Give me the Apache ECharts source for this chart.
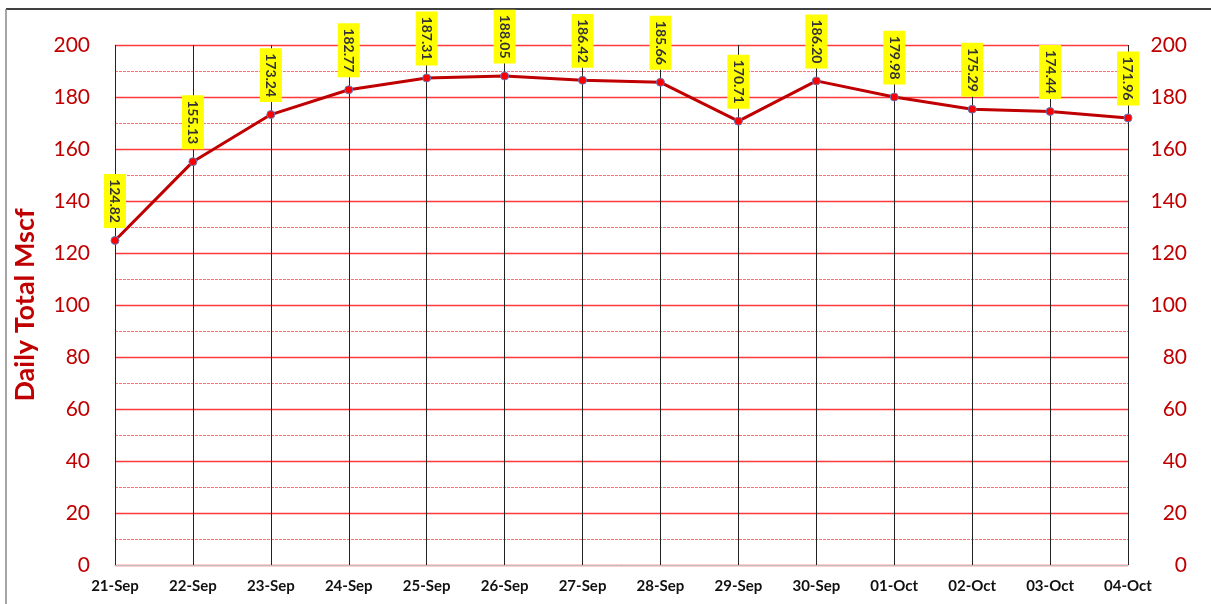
<!DOCTYPE html>
<html><head><meta charset="utf-8">
<script src="https://cdn.jsdelivr.net/npm/echarts@6/dist/echarts.min.js"></script>
<style>html,body{margin:0;padding:0;background:#fff}#c{width:1211px;height:604px}</style>
</head><body><div id="c"></div>
<script>
const categories = ['21-Sep','22-Sep','23-Sep','24-Sep','25-Sep','26-Sep','27-Sep','28-Sep','29-Sep','30-Sep','01-Oct','02-Oct','03-Oct','04-Oct'];
const dailyTotal = [124.82,155.13,173.24,182.77,187.31,188.05,186.42,185.66,170.71,186.20,179.98,175.29,174.44,171.96];
const minorGridValues = [10,30,50,70,90,110,130,150,170,190];
const axisName = 'Daily Total Mscf';

const chart = echarts.init(document.getElementById('c'), null, {renderer:'canvas'});
const base = {type:'value', min:0, max:200, interval:20, axisLine:{show:false}, axisTick:{show:false}};
const frame = [
  {type:'line', shape:{x1:6,y1:9,x2:1211,y2:9}, style:{stroke:'#000', lineWidth:1.5}},
  {type:'line', shape:{x1:6,y1:9,x2:6,y2:604}, style:{stroke:'#888', lineWidth:1.5}}
];
chart.setOption({
  animation:false,
  grid:{left:115, right:83, top:45, bottom:39, containLabel:false},
  graphic:frame,
  xAxis:{
    type:'category', data:categories, boundaryGap:false,
    axisLine:{show:true, lineStyle:{color:'#BFBFBF', width:1}},
    axisTick:{show:false},
    axisLabel:{margin:14, fontFamily:'Lato', fontWeight:'bold', fontSize:15, color:'#111', interval:0},
    splitLine:{show:true, lineStyle:{color:'#222', width:1}}
  },
  yAxis:[
    Object.assign({}, base, {
      position:'left', name:axisName, nameLocation:'middle', nameGap:76,
      nameTextStyle:{fontFamily:'Lato', fontWeight:'bold', fontSize:27, color:'#C00000'},
      axisLabel:{margin:25, fontFamily:'Lato', fontSize:21, color:'#C00000'},
      splitLine:{show:true, lineStyle:{color:'#FF3B3B', width:1.3}}
    }),
    Object.assign({}, base, {
      position:'right',
      splitLine:{show:false},
      axisLabel:{margin:59, align:'right', fontFamily:'Lato', fontSize:21, color:'#C00000'}
    })
  ],
  series:[{
    type:'line', data:dailyTotal, yAxisIndex:0,
    lineStyle:{color:'#C00000', width:3},
    symbol:'circle', symbolSize:8,
    itemStyle:{color:'#FF0000', borderColor:'#5B7BC4', borderWidth:1},
    label:{
      show:true, position:'top', distance:8, rotate:-90, align:'right', verticalAlign:'middle',
      formatter:p=>p.value.toFixed(2),
      backgroundColor:'#FFFF00', padding:[4,5,4,5],
      fontFamily:'Lato', fontSize:14, fontWeight:'bold', color:'#333'
    },
    z:5
  }]
});
// minor gridlines positioned through the chart's own scales
const xStart = chart.convertToPixel({xAxisIndex:0}, 0);
const xEnd = chart.convertToPixel({xAxisIndex:0}, categories.length - 1);
const minorLines = minorGridValues.map(v => {
  const y = Math.round(chart.convertToPixel({yAxisIndex:0}, v)) + 0.5;
  return {type:'line', z:-1, silent:true, shape:{x1:xStart, y1:y, x2:xEnd, y2:y},
          style:{stroke:'#FF7070', lineWidth:1.2, lineDash:[3,1]}};
});
chart.setOption({graphic:frame.concat(minorLines)}, {replaceMerge:['graphic']});
</script></body></html>
